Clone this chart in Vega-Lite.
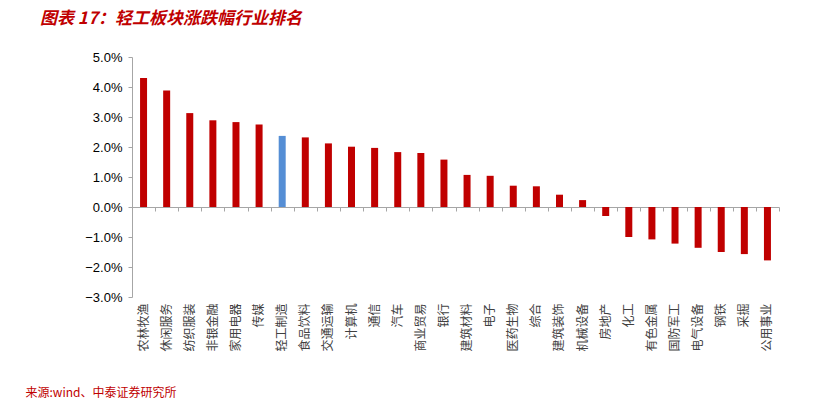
{
  "$schema": "https://vega.github.io/schema/vega-lite/v6.json",
  "autosize": "none",
  "width": 647,
  "height": 240,
  "padding": {"left": 132, "top": 57, "right": 55, "bottom": 106},
  "background": "white",
  "config": {"view": {"stroke": null}, "axisY": {"labelOverlap": false}},
  "title": {
    "text": "图表 17：轻工板块涨跌幅行业排名",
    "anchor": "start",
    "frame": "group",
    "dx": -92,
    "offset": 23,
    "font": "Noto Sans CJK SC",
    "fontSize": 17,
    "fontWeight": "bold",
    "fontStyle": "italic",
    "color": "#C00000"
  },
  "data": {
    "values": [
      {"industry": "农林牧渔", "value": 0.0430},
      {"industry": "休闲服务", "value": 0.0388},
      {"industry": "纺织服装", "value": 0.0313},
      {"industry": "非银金融", "value": 0.0289},
      {"industry": "家用电器", "value": 0.0283},
      {"industry": "传媒", "value": 0.0275},
      {"industry": "轻工制造", "value": 0.0237},
      {"industry": "食品饮料", "value": 0.0232},
      {"industry": "交通运输", "value": 0.0212},
      {"industry": "计算机", "value": 0.0201},
      {"industry": "通信", "value": 0.0197},
      {"industry": "汽车", "value": 0.0183},
      {"industry": "商业贸易", "value": 0.0180},
      {"industry": "银行", "value": 0.0158},
      {"industry": "建筑材料", "value": 0.0107},
      {"industry": "电子", "value": 0.0104},
      {"industry": "医药生物", "value": 0.0071},
      {"industry": "综合", "value": 0.0069},
      {"industry": "建筑装饰", "value": 0.0041},
      {"industry": "机械设备", "value": 0.0023},
      {"industry": "房地产", "value": -0.0030},
      {"industry": "化工", "value": -0.0100},
      {"industry": "有色金属", "value": -0.0108},
      {"industry": "国防军工", "value": -0.0122},
      {"industry": "电气设备", "value": -0.0136},
      {"industry": "钢铁", "value": -0.0150},
      {"industry": "采掘", "value": -0.0157},
      {"industry": "公用事业", "value": -0.0178}
    ]
  },
  "layer": [
    {
      "mark": {"type": "bar", "size": 7},
      "encoding": {
        "x": {
          "field": "industry",
          "type": "nominal",
          "sort": null,
          "scale": {"paddingInner": 0, "paddingOuter": 0},
          "axis": {
            "orient": "bottom",
            "domain": false,
            "ticks": false,
            "tickSize": 0,
            "labelAngle": -90,
            "labelPadding": 6,
            "labelFont": "Noto Sans CJK SC",
            "labelFontSize": 12,
            "labelColor": "#404040",
            "title": "来源:wind、中泰证券研究所",
            "titleFont": "Noto Sans CJK SC",
            "titleFontSize": 12,
            "titleFontWeight": "normal",
            "titleColor": "#C00000",
            "titleAnchor": "start",
            "titleAlign": "left",
            "titleBaseline": "middle",
            "titleX": -107,
            "titleY": 95
          }
        },
        "y": {
          "field": "value",
          "type": "quantitative",
          "scale": {"domain": [-0.03, 0.05], "nice": false, "zero": false},
          "axis": {
            "orient": "left",
            "format": ".1%",
            "values": [-0.03, -0.02, -0.01, 0, 0.01, 0.02, 0.03, 0.04, 0.05],
            "labelOverlap": false,
            "grid": false,
            "title": null,
            "domainColor": "#A6A6A6",
            "tickColor": "#A6A6A6",
            "tickSize": 4,
            "labelPadding": 6,
            "labelFont": "Liberation Sans",
            "labelFontSize": 13,
            "labelColor": "#000000"
          }
        },
        "color": {
          "condition": {"test": "datum.industry === '轻工制造'", "value": "#558ED5"},
          "value": "#C00000"
        }
      }
    },
    {
      "mark": {"type": "bar", "size": 7, "opacity": 0},
      "encoding": {
        "x": {
          "field": "industry",
          "type": "nominal",
          "sort": null,
          "axis": {
            "orient": "bottom",
            "offset": -90,
            "labels": false,
            "title": null,
            "domain": true,
            "domainColor": "#A6A6A6",
            "ticks": true,
            "tickBand": "extent",
            "tickColor": "#A6A6A6",
            "tickSize": 4
          }
        },
        "y": {"field": "value", "type": "quantitative", "axis": null}
      }
    }
  ],
  "resolve": {"axis": {"x": "independent", "y": "independent"}}
}
